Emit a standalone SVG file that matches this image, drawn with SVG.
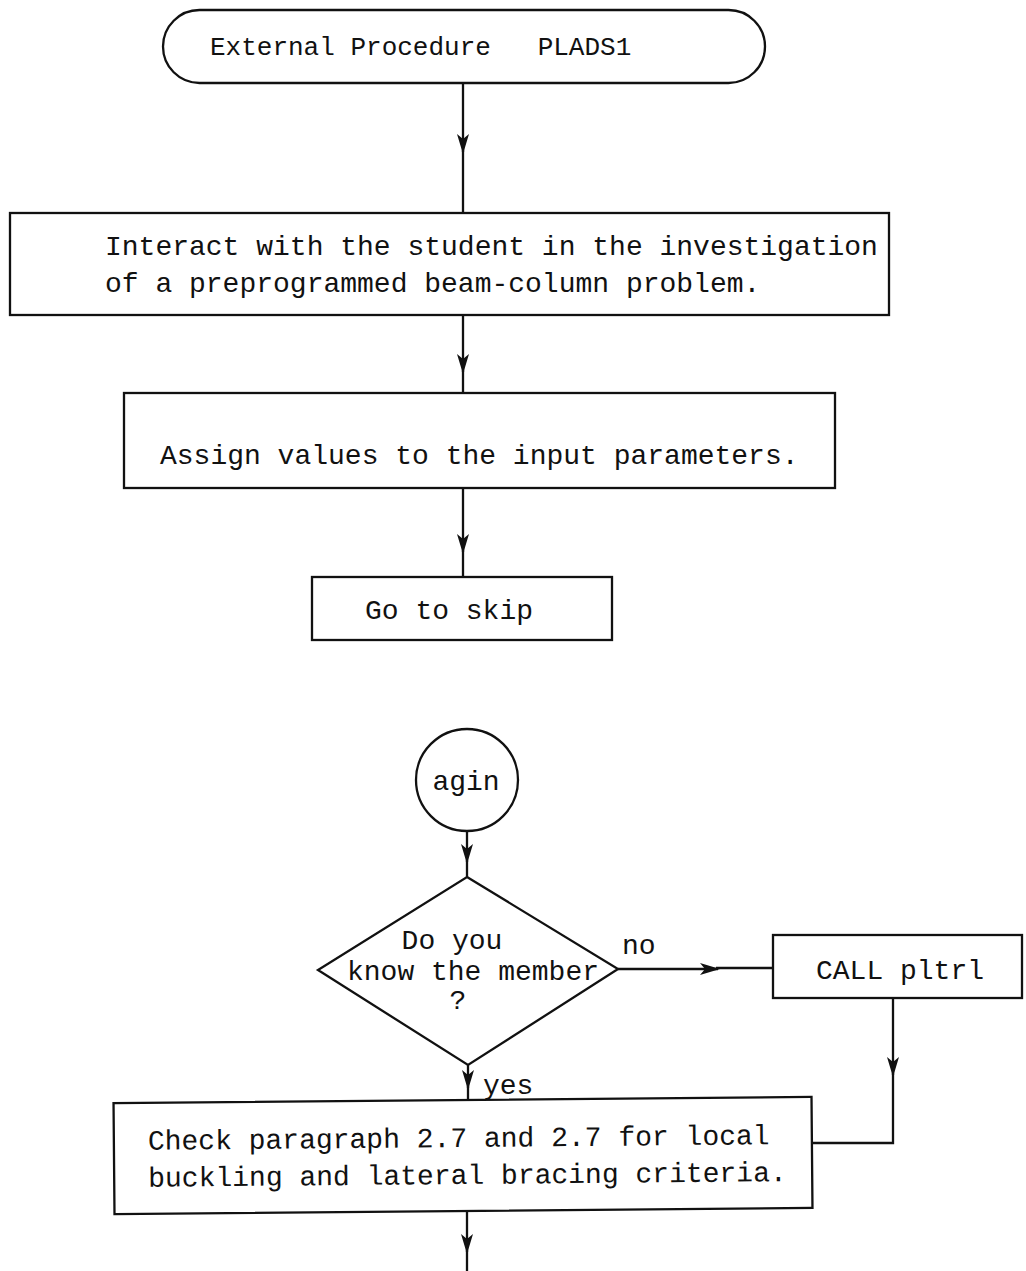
<svg xmlns="http://www.w3.org/2000/svg" width="1026" height="1271" viewBox="0 0 1026 1271">
  <style>
    .shape { fill: #fff; stroke: #111; stroke-width: 2.3; }
    .line { fill: none; stroke: #111; stroke-width: 2.3; }
    .txt { font-family: "Liberation Mono", "Courier New", monospace; font-size: 28px; fill: #111; }
    .title { font-size: 26px; }
    .mid { text-anchor: middle; }
  </style>
  <defs>
    <!-- barbed arrowhead placed at the middle of a connector -->
    <marker id="barb" viewBox="0 0 20 12" refX="18" refY="6" markerWidth="20" markerHeight="12" markerUnits="userSpaceOnUse" orient="auto">
      <path d="M0,0 L20,6 L0,12 L5,6 Z" fill="#111"/>
    </marker>
  </defs>

  <g id="start">
    <rect class="shape" x="163" y="10" width="602" height="73" rx="36.5" ry="36.5"/>
    <text class="txt title" x="210" y="55" xml:space="preserve">External Procedure   PLADS1</text>
  </g>

  <g id="interact">
    <rect class="shape" x="10" y="213" width="879" height="102"/>
    <text class="txt" x="105" y="255">Interact with the student in the investigation</text>
    <text class="txt" x="105" y="292">of a preprogrammed beam-column problem.</text>
  </g>

  <g id="assign">
    <rect class="shape" x="124" y="393" width="711" height="95"/>
    <text class="txt" x="160" y="464">Assign values to the input parameters.</text>
  </g>

  <g id="goto-skip">
    <rect class="shape" x="312" y="577" width="300" height="63"/>
    <text class="txt" x="365" y="619">Go to skip</text>
  </g>

  <g id="agin">
    <circle class="shape" cx="467" cy="780" r="51"/>
    <text class="txt mid" x="466" y="790">agin</text>
  </g>

  <g id="know-member">
    <polygon class="shape" points="467,877 618,969 468,1065 318,970"/>
    <text class="txt mid" x="452" y="949">Do you</text>
    <text class="txt mid" x="473" y="980">know the member</text>
    <text class="txt mid" x="458" y="1009">?</text>
  </g>

  <g id="call-pltrl">
    <rect class="shape" x="773" y="935" width="249" height="63"/>
    <text class="txt" x="816" y="979">CALL pltrl</text>
  </g>

  <g id="check-paragraph" transform="rotate(-0.5 463 1155)">
    <rect class="shape" x="114" y="1100" width="698" height="111"/>
    <text class="txt" x="148" y="1147">Check paragraph 2.7 and 2.7 for local</text>
    <text class="txt" x="148" y="1184">buckling and lateral bracing criteria.</text>
  </g>

  <g id="connectors">
    <!-- each connector is split so the arrowhead sits mid-line -->
    <path class="line" d="M463,83 V152" marker-end="url(#barb)"/>
    <path class="line" d="M463,150 V213"/>
    <path class="line" d="M463,315 V372" marker-end="url(#barb)"/>
    <path class="line" d="M463,370 V393"/>
    <path class="line" d="M463,488 V552" marker-end="url(#barb)"/>
    <path class="line" d="M463,550 V577"/>
    <path class="line" d="M467,831 V862" marker-end="url(#barb)"/>
    <path class="line" d="M467,860 V877"/>
    <path class="line" d="M618,969 H718" marker-end="url(#barb)"/>
    <path class="line" d="M716,968 H773"/>
    <path class="line" d="M893,998 V1075" marker-end="url(#barb)"/>
    <path class="line" d="M893,1073 V1143 H812"/>
    <path class="line" d="M468,1065 V1088" marker-end="url(#barb)"/>
    <path class="line" d="M468,1086 V1100"/>
    <path class="line" d="M467,1211 V1252" marker-end="url(#barb)"/>
    <path class="line" d="M467,1250 V1271"/>
    <text class="txt" x="622" y="954">no</text>
    <text class="txt" x="483" y="1094">yes</text>
  </g>
</svg>
